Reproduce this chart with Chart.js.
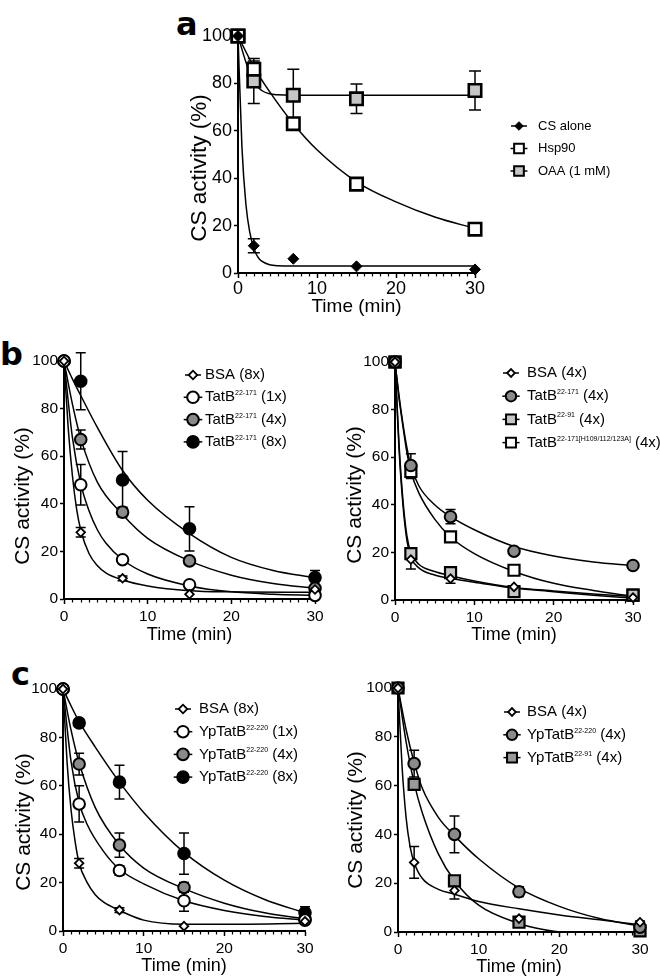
<!DOCTYPE html>
<html>
<head>
<meta charset="utf-8">
<script src="https://cdn.jsdelivr.net/npm/chart.js@4.4.1/dist/chart.umd.min.js"></script>
<style>
  html, body { margin: 0; padding: 0; background: #fff; }
  body { width: 660px; height: 980px; position: relative; overflow: hidden; }
  canvas { position: absolute; }
  .tag { position: absolute; font-family: "DejaVu Sans", sans-serif; font-weight: bold; font-size: 32px; line-height: 1; color: #000; }
</style>
</head>
<body>
<div class="tag" style="left:176px;top:8px">a</div>
<div class="tag" style="left:0px;top:338px">b</div>
<div class="tag" style="left:11px;top:658px">c</div>
<canvas id="panelA"></canvas>
<canvas id="panelB1"></canvas>
<canvas id="panelB2"></canvas>
<canvas id="panelC1"></canvas>
<canvas id="panelC2"></canvas>
<script>
// sampling times (min) and axis ticks
const timePoints = [0, 2, 7, 15, 30];
const xTicks = [0, 10, 20, 30];
const yTicks = [0, 20, 40, 60, 80, 100];

// ---- panel a ----
const csAlone = [100, 11.5, 6, 2.8, 1.5];
const csAloneSd = [0, 3, 0, 0, 0];
const hsp90 = [100, 86, 63, 37.5, 18.5];
const hsp90Sd = [0, 3.5, 0, 2, 0];
const oaa = [100, 81, 75, 73.5, 77];
const oaaSd = [0, 9.5, 11, 6.2, 8.2];
// fitted curves
const csAloneFitT = [0, 0.5, 1, 1.5, 2, 2.5, 3, 4, 5, 7, 30];
const csAloneFit = [100, 53, 29, 17, 10.5, 6.8, 5, 3.5, 3.1, 3, 3];
const hsp90FitT = [0, 2, 4, 7, 10, 15, 20, 25, 30];
const hsp90Fit = [100, 87, 76.5, 63, 52, 38.5, 30, 23.5, 18.8];
const oaaFitT = [0, 1, 2, 3, 4, 5, 7, 30];
const oaaFit = [100, 89, 80.5, 77, 75.6, 75.2, 75, 75];

// ---- panel b, left ----
const bsa8B = [100, 28, 8.7, 2, 4];
const bsa8BSd = [0, 2, 1, 0, 0];
const tatB1 = [100, 48, 16.5, 6, 1.5];
const tatB1Sd = [0, 8.5, 1, 0.5, 0];
const tatB4 = [100, 67, 36.5, 16, 4.5];
const tatB4Sd = [0, 4, 2, 1, 0];
const tatB8 = [100, 91.5, 50, 29.5, 9];
const tatB8Sd = [0, 12, 12, 9.3, 3];
const bsa8BFitT = [0, 0.5, 1, 1.5, 2, 3, 4, 5, 7, 10, 15, 20, 30];
const bsa8BFit = [100, 72, 52, 38, 29, 19, 14, 11, 8, 5.5, 3.5, 3, 2.8];
const tatB1FitT = [0, 1, 2, 3, 4, 5, 7, 10, 15, 20, 25, 30];
const tatB1Fit = [100, 68, 48.5, 37, 29, 23.5, 16.5, 10.5, 5.5, 3, 2, 1.5];
const tatB4FitT = [0, 1, 2, 4, 7, 10, 15, 20, 25, 30];
const tatB4Fit = [100, 82, 67.5, 49, 35.5, 25.5, 16, 10, 6.5, 4.5];
const tatB8FitT = [0, 1, 2, 4, 7, 10, 15, 20, 25, 30];
const tatB8Fit = [100, 92.5, 85.5, 72, 54, 41.5, 27.5, 17.5, 12, 9];

// ---- panel b, right ----
const bsa4B = [100, 17, 9, 5.5, 1];
const bsa4BSd = [0, 4, 2, 0.5, 0];
const tatB171 = [100, 56.5, 35, 20.5, 14.5];
const tatB171Sd = [0, 5, 3, 1, 0];
const tatB91 = [100, 19.5, 11.5, 3.5, 2];
const tatB91Sd = [0, 2, 1, 1, 0];
const tatBmut = [100, 54, 26.5, 12.5, 2];
const tatBmutSd = [0, 3, 1, 1, 0];
const rightFitT = [0, 0.5, 1, 1.5, 2, 3, 5, 7, 10, 15, 20, 25, 30];
const bsa4BFit = [100, 64, 40, 25, 18, 13.5, 10.5, 9, 7.5, 5, 3.5, 2, 0.8];
const tatB91Fit = [100, 66, 42, 27, 20, 15, 12, 10.2, 8, 5.3, 3.8, 2.5, 1.5];
const tatB171Fit = [100, 86, 74, 64, 56.5, 48, 40, 35, 29.5, 22.5, 18.5, 16, 14.5];
const tatBmutFit = [100, 85, 73, 62, 54, 45, 34, 26.5, 19.5, 12, 7, 4, 1.5];

// ---- panel c, left ----
const bsa8C = [100, 28, 8.6, 2, 4];
const bsa8CSd = [0, 2, 1, 0, 1];
const yp1 = [100, 52.5, 25, 12.5, 4.5];
const yp1Sd = [0, 7.5, 2, 4.3, 1.5];
const yp4 = [100, 69, 35.5, 18, 5];
const yp4Sd = [0, 4.5, 5, 2, 1];
const yp8 = [100, 86, 61.5, 32, 7.5];
const yp8Sd = [0, 1.5, 7, 8.5, 2.5];
const bsa8CFitT = [0, 0.5, 1, 1.5, 2, 3, 4, 5, 7, 10, 15, 20, 30];
const bsa8CFit = [100, 70, 50, 37, 28, 20, 15, 12, 8.5, 4.5, 2.8, 2.8, 3.2];
const yp1FitT = [0, 1, 2, 3, 5, 7, 10, 15, 20, 25, 30];
const yp1Fit = [100, 70, 53, 44, 33, 25.5, 19.5, 12.5, 8.5, 6, 4.5];
const yp4FitT = [0, 1, 2, 4, 7, 10, 15, 20, 25, 30];
const yp4Fit = [100, 83, 69.5, 51, 35.5, 26, 17.5, 11.5, 7.5, 5];
const yp8FitT = [0, 1, 2, 4, 7, 10, 15, 20, 25, 30];
const yp8Fit = [100, 93, 86.5, 76, 61.5, 49, 32.5, 21, 13, 7.5];

// ---- panel c, right ----
const bsa4C = [100, 28.5, 17, 5.5, 4];
const bsa4CSd = [0, 6.5, 3.5, 0.5, 0.5];
const yp220 = [100, 69, 40, 16.5, 2];
const yp220Sd = [0, 5.5, 7.5, 2, 0.5];
const yp91 = [100, 60.5, 21, 4, 0.5];
const yp91Sd = [0, 1, 1, 1, 0];
const bsa4CFitT = [0, 0.5, 1, 1.5, 2, 3, 5, 7, 10, 15, 20, 25, 30];
const bsa4CFit = [100, 68, 47, 35, 28.5, 22, 17.5, 15.5, 12.5, 9.5, 7, 5, 3];
const yp220FitT = [0, 1, 2, 3, 5, 7, 10, 15, 20, 25, 30];
const yp220Fit = [100, 83, 69.5, 59, 47, 39.5, 30, 18, 10.5, 5.5, 2.5];
const yp91FitT = [0, 1, 2, 3, 5, 7, 10, 15, 18, 20, 22];
const yp91Fit = [100, 78, 61, 49, 32, 21, 11, 3.5, 1, 0, -0.5];

const FONT = '"Liberation Sans", Arial, Helvetica, sans-serif';

// marker looks
const diamondW = {pointStyle: 'rectRot', pointRadius: 4.3, pointBackgroundColor: '#fff', pointBorderWidth: 1.8};
const diamondK = {pointStyle: 'rectRot', pointRadius: 5.5, pointBackgroundColor: '#000', pointBorderWidth: 1};
const circleW = {pointStyle: 'circle', pointRadius: 5.8, pointBackgroundColor: '#fff', pointBorderWidth: 2};
const circleG = {pointStyle: 'circle', pointRadius: 5.8, pointBackgroundColor: '#8a8a8a', pointBorderWidth: 2};
const circleK = {pointStyle: 'circle', pointRadius: 5.8, pointBackgroundColor: '#000', pointBorderWidth: 2};
const squareW = {pointStyle: 'rect', pointRadius: 7.8, pointBackgroundColor: '#fff', pointBorderWidth: 2.2};
const squareL = {pointStyle: 'rect', pointRadius: 7.8, pointBackgroundColor: '#c6c6c6', pointBorderWidth: 2.2};
const squareD = {pointStyle: 'rect', pointRadius: 7.8, pointBackgroundColor: '#9a9a9a', pointBorderWidth: 2.2};
const bigSquareW = {pointStyle: 'rect', pointRadius: 8.8, pointBackgroundColor: '#fff', pointBorderWidth: 2.6};
const bigSquareL = {pointStyle: 'rect', pointRadius: 8.8, pointBackgroundColor: '#c6c6c6', pointBorderWidth: 2.6};

function pts(t, v) {
    return t.map((x, i) => ({x: x, y: v[i]}));
}

function series(name, values, sd, look) {
    return Object.assign({
        name: name, data: pts(timePoints, values), err: sd,
        pointBorderColor: '#000', showLine: false, clip: false
    }, look);
}

function fit(t, v) {
    return {
        data: pts(t, v), showLine: true, borderColor: '#000', borderWidth: 1.5,
        pointRadius: 0, cubicInterpolationMode: 'monotone', fill: false
    };
}

function marker(ctx, style, x, y, r, fill, bw) {
    ctx.beginPath();
    if (style === 'circle') ctx.arc(x, y, r, 0, Math.PI * 2);
    else if (style === 'rect') { const s = r * Math.SQRT1_2; ctx.rect(x - s, y - s, 2 * s, 2 * s); }
    else { ctx.moveTo(x - r, y); ctx.lineTo(x, y - r); ctx.lineTo(x + r, y); ctx.lineTo(x, y + r); ctx.closePath(); }
    ctx.fillStyle = fill;
    ctx.fill();
    ctx.lineWidth = bw;
    ctx.strokeStyle = '#000';
    ctx.stroke();
}

// SD bars, drawn under the markers
const errorBars = {
    id: 'errorBars',
    beforeDatasetsDraw(chart, args, o) {
        const {ctx, scales: {x, y}} = chart;
        ctx.save();
        ctx.strokeStyle = '#000';
        ctx.lineWidth = 1.5;
        chart.data.datasets.forEach(ds => {
            if (!ds.err) return;
            ds.data.forEach((p, i) => {
                const e = ds.err[i];
                if (!e) return;
                const px = x.getPixelForValue(p.x);
                const top = y.getPixelForValue(p.y + e);
                const bot = y.getPixelForValue(p.y - e);
                ctx.beginPath();
                ctx.moveTo(px, top); ctx.lineTo(px, bot);
                ctx.moveTo(px - o.cap, top); ctx.lineTo(px + o.cap, top);
                ctx.moveTo(px - o.cap, bot); ctx.lineTo(px + o.cap, bot);
                ctx.stroke();
            });
        });
        ctx.restore();
    }
};

// minor ticks every minute on the time axis
const minorTicks = {
    id: 'minorTicks',
    afterDraw(chart) {
        const {ctx, scales: {x}, chartArea} = chart;
        ctx.save();
        ctx.strokeStyle = '#000';
        ctx.lineWidth = 1.2;
        for (let v = x.min + 1; v < x.max; v++) {
            if (xTicks.includes(v)) continue;
            const px = Math.round(x.getPixelForValue(v)) + 0.5;
            ctx.beginPath();
            ctx.moveTo(px, chartArea.bottom);
            ctx.lineTo(px, chartArea.bottom + 3.5);
            ctx.stroke();
        }
        ctx.restore();
    }
};

// rotated y title, sits a little below the axis middle like the original
const yTitle = {
    id: 'yTitle',
    afterDraw(chart, args, o) {
        const ctx = chart.ctx;
        ctx.save();
        ctx.translate(o.x, o.y);
        ctx.rotate(-Math.PI / 2);
        ctx.font = o.size + 'px ' + FONT;
        ctx.fillStyle = '#000';
        ctx.textAlign = 'center';
        ctx.textBaseline = 'middle';
        ctx.fillText('CS activity (%)', 0, 0);
        ctx.restore();
    }
};

// legend rows: line through the marker, name with superscript part
const curveLegend = {
    id: 'curveLegend',
    afterDraw(chart, args, o) {
        const ctx = chart.ctx;
        const rows = chart.data.datasets.filter(d => d.name);
        ctx.save();
        rows.forEach((d, i) => {
            const y = o.y + i * o.gap;
            const r = d.pointRadius * o.scale;
            const half = Math.max(8, (d.pointStyle === 'rect' ? r * 0.72 : r) + 3.5);
            ctx.strokeStyle = '#000';
            ctx.lineWidth = 1.5;
            ctx.beginPath();
            ctx.moveTo(o.x - half, y);
            ctx.lineTo(o.x + half, y);
            ctx.stroke();
            marker(ctx, d.pointStyle, o.x, y, r, d.pointBackgroundColor, Math.min(d.pointBorderWidth, 2));
            let tx = o.textX;
            ctx.fillStyle = '#000';
            ctx.textAlign = 'left';
            ctx.textBaseline = 'middle';
            d.name.forEach((part, k) => {
                const sup = k === 1;
                ctx.font = (sup ? o.supSize : o.size) + 'px ' + FONT;
                ctx.fillText(part, tx, sup ? y - 4 : y);
                tx += ctx.measureText(part).width;
            });
        });
        ctx.restore();
    }
};

function makePanel(p) {
    const c = document.getElementById(p.id);
    c.width = p.w;
    c.height = p.h;
    c.style.left = p.left + 'px';
    c.style.top = p.top + 'px';
    const [L, T, R, B] = p.area;
    const tickFont = {family: FONT, size: p.tick};
    const xTitleFont = {family: FONT, size: p.xTitle.size, lineHeight: 1.2};
    const bottom = p.top + p.h;
    new Chart(c, {
        type: 'scatter',
        data: {datasets: p.series.concat(p.fits)},
        options: {
            responsive: false,
            animation: false,
            devicePixelRatio: 1,
            events: [],
            layout: {padding: {top: T - p.top, right: p.left + p.w - R, left: 0, bottom: 0}},
            plugins: {
                legend: {display: false},
                tooltip: {enabled: false},
                errorBars: {cap: p.cap},
                yTitle: {x: p.yTitle.x - p.left, y: p.yTitle.y - p.top, size: p.yTitle.size},
                curveLegend: Object.assign({}, p.legend, {x: p.legend.x - p.left, textX: p.legend.textX - p.left, y: p.legend.y - p.top})
            },
            scales: {
                x: {
                    type: 'linear', min: 0, max: 30,
                    afterBuildTicks: s => { s.ticks = xTicks.map(v => ({value: v})); },
                    ticks: {color: '#000', font: tickFont, padding: p.xPad, maxRotation: 0},
                    grid: {drawOnChartArea: false, drawTicks: true, tickLength: 5, tickColor: '#000', tickWidth: 1.5},
                    border: {color: '#000', width: 2},
                    title: {display: true, text: 'Time (min)', color: '#000', font: xTitleFont,
                        padding: {top: 0, bottom: bottom - p.xTitle.y - p.xTitle.size * 0.6}},
                    afterFit: s => { s.height = bottom - B; }
                },
                y: {
                    type: 'linear', min: 0, max: 100,
                    afterBuildTicks: s => { s.ticks = yTicks.map(v => ({value: v})); },
                    ticks: {color: '#000', font: tickFont, padding: 2},
                    grid: {drawOnChartArea: false, drawTicks: true, tickLength: 4, tickColor: '#000', tickWidth: 1.5},
                    border: {color: '#000', width: 2},
                    afterFit: s => { s.width = L - p.left; }
                }
            }
        },
        plugins: [errorBars, minorTicks, yTitle, curveLegend]
    });
}

makePanel({
    id: 'panelA', left: 150, top: 0, w: 510, h: 322, area: [238, 36, 475, 273],
    tick: 18, xPad: 0, cap: 6,
    yTitle: {x: 200, y: 168, size: 22.5}, xTitle: {y: 307, size: 19},
    legend: {x: 519, textX: 538, y: 126, gap: 22.5, size: 13, supSize: 7, scale: 0.78},
    series: [
        series(['CS alone'], csAlone, csAloneSd, diamondK),
        series(['Hsp90'], hsp90, hsp90Sd, bigSquareW),
        series(['OAA (1 mM)'], oaa, oaaSd, bigSquareL)
    ],
    fits: [fit(csAloneFitT, csAloneFit), fit(hsp90FitT, hsp90Fit), fit(oaaFitT, oaaFit)]
});

makePanel({
    id: 'panelB1', left: 0, top: 330, w: 330, h: 320, area: [64, 361, 315, 599],
    tick: 15.5, xPad: 3, cap: 5,
    yTitle: {x: 23, y: 496, size: 21}, xTitle: {y: 635, size: 18},
    legend: {x: 193, textX: 205, y: 375, gap: 22.3, size: 15, supSize: 7, scale: 1},
    series: [
        series(['BSA (8x)'], bsa8B, bsa8BSd, diamondW),
        series(['TatB', '22-171', ' (1x)'], tatB1, tatB1Sd, circleW),
        series(['TatB', '22-171', ' (4x)'], tatB4, tatB4Sd, circleG),
        series(['TatB', '22-171', ' (8x)'], tatB8, tatB8Sd, circleK)
    ],
    fits: [fit(bsa8BFitT, bsa8BFit), fit(tatB1FitT, tatB1Fit), fit(tatB4FitT, tatB4Fit), fit(tatB8FitT, tatB8Fit)]
});

makePanel({
    id: 'panelB2', left: 330, top: 330, w: 330, h: 320, area: [395, 362, 633, 600],
    tick: 15.5, xPad: 3, cap: 5,
    yTitle: {x: 355, y: 495, size: 21}, xTitle: {y: 635, size: 18},
    legend: {x: 511, textX: 527, y: 373, gap: 23.2, size: 15, supSize: 7, scale: 0.9},
    series: [
        series(['BSA (4x)'], bsa4B, bsa4BSd, diamondW),
        series(['TatB', '22-171', ' (4x)'], tatB171, tatB171Sd, circleG),
        series(['TatB', '22-91', ' (4x)'], tatB91, tatB91Sd, squareL),
        series(['TatB', '22-171[H109/112/123A]', ' (4x)'], tatBmut, tatBmutSd, squareW)
    ],
    fits: [fit(rightFitT, bsa4BFit), fit(rightFitT, tatB171Fit), fit(rightFitT, tatB91Fit), fit(rightFitT, tatBmutFit)]
});

makePanel({
    id: 'panelC1', left: 0, top: 660, w: 330, h: 320, area: [63, 689, 305, 931],
    tick: 15.5, xPad: 3, cap: 5,
    yTitle: {x: 24, y: 822, size: 21}, xTitle: {y: 966.5, size: 18},
    legend: {x: 183, textX: 199, y: 709, gap: 22.7, size: 15, supSize: 7, scale: 1},
    series: [
        series(['BSA (8x)'], bsa8C, bsa8CSd, diamondW),
        series(['YpTatB', '22-220', ' (1x)'], yp1, yp1Sd, circleW),
        series(['YpTatB', '22-220', ' (4x)'], yp4, yp4Sd, circleG),
        series(['YpTatB', '22-220', ' (8x)'], yp8, yp8Sd, circleK)
    ],
    fits: [fit(bsa8CFitT, bsa8CFit), fit(yp1FitT, yp1Fit), fit(yp4FitT, yp4Fit), fit(yp8FitT, yp8Fit)]
});

makePanel({
    id: 'panelC2', left: 330, top: 660, w: 330, h: 320, area: [398, 688, 640, 932],
    tick: 15.5, xPad: 3, cap: 5,
    yTitle: {x: 356, y: 820, size: 21}, xTitle: {y: 967.5, size: 18},
    legend: {x: 512, textX: 527, y: 712, gap: 22.8, size: 15, supSize: 7, scale: 0.9},
    series: [
        series(['BSA (4x)'], bsa4C, bsa4CSd, diamondW),
        series(['YpTatB', '22-220', ' (4x)'], yp220, yp220Sd, circleG),
        series(['YpTatB', '22-91', ' (4x)'], yp91, yp91Sd, squareD)
    ],
    fits: [fit(bsa4CFitT, bsa4CFit), fit(yp220FitT, yp220Fit), fit(yp91FitT, yp91Fit)]
});
</script>
</body>
</html>
